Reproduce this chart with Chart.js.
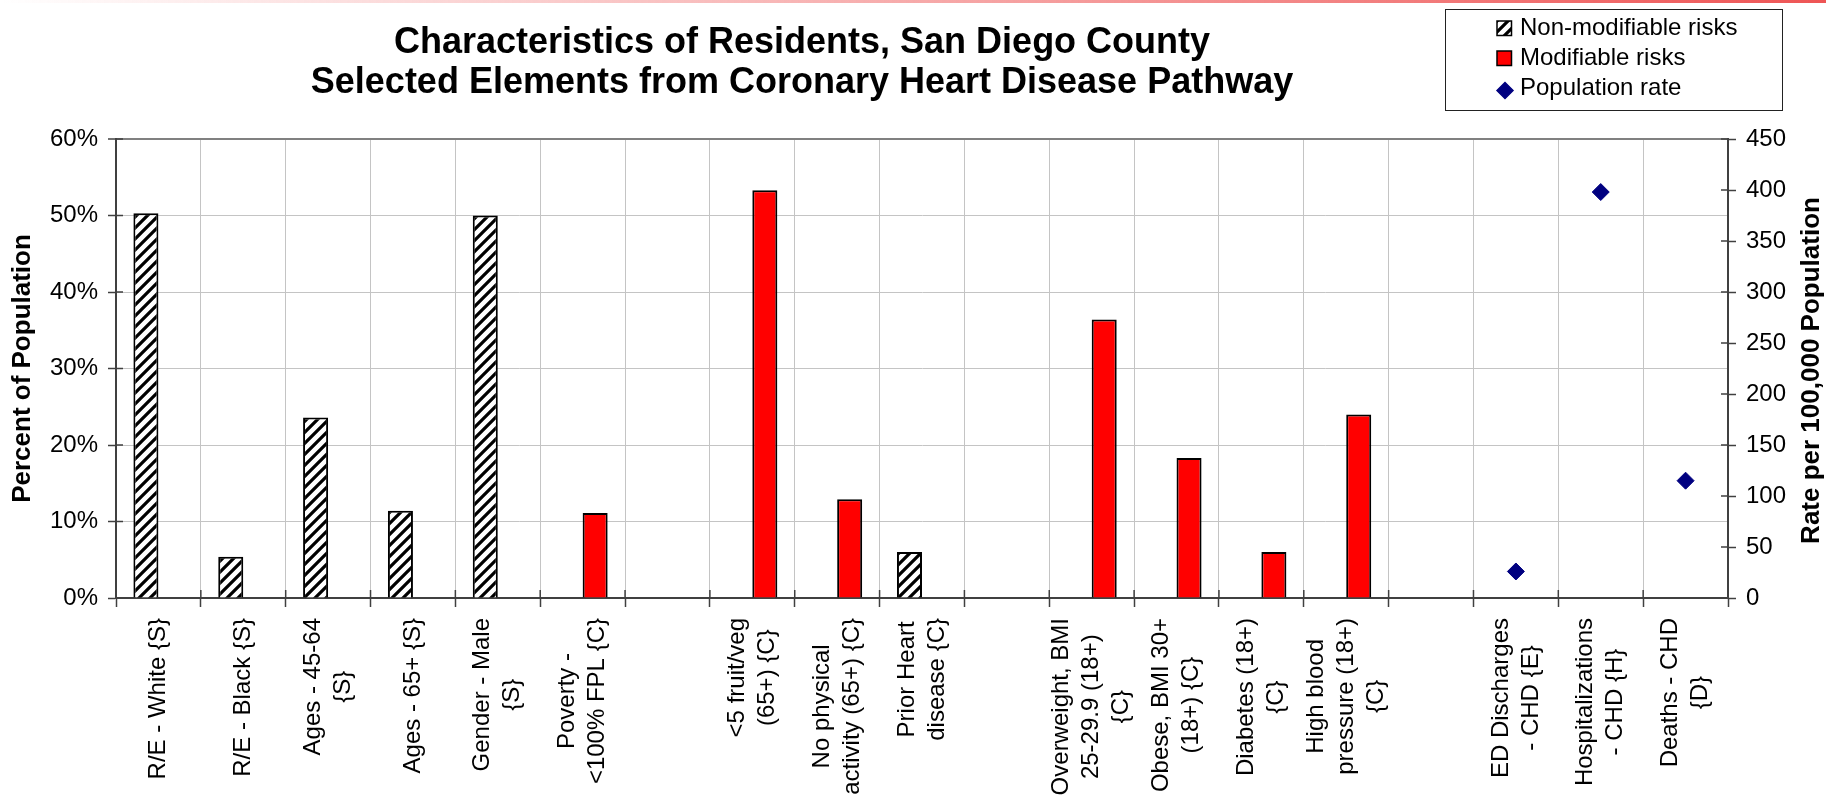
<!DOCTYPE html>
<html>
<head>
<meta charset="utf-8">
<title>Characteristics of Residents, San Diego County</title>
<script src="https://cdn.jsdelivr.net/npm/chart.js@4.4.1/dist/chart.umd.min.js"></script>
<style>
  html, body { margin: 0; padding: 0; background: #fff; }
  #wrap { width: 1826px; height: 801px; position: relative; }
</style>
</head>
<body>
<div id="wrap"><canvas id="chart"></canvas></div>
<script>
// one entry per category slot, each entry = label lines ('' = empty gap slot)
const categories = [
    ['R/E - White {S}'],
    ['R/E - Black {S}'],
    ['Ages - 45-64', '{S}'],
    ['Ages - 65+ {S}'],
    ['Gender - Male', '{S}'],
    ['Poverty -', '<100% FPL {C}'],
    [''],
    ['<5 fruit/veg', '(65+) {C}'],
    ['No physical', 'activity (65+) {C}'],
    ['Prior Heart', 'disease {C}'],
    [''],
    ['Overweight, BMI', '25-29.9 (18+)', '{C}'],
    ['Obese, BMI 30+', '(18+) {C}'],
    ['Diabetes (18+)', '{C}'],
    ['High blood', 'pressure (18+)', '{C}'],
    [''],
    ['ED Discharges', '- CHD {E}'],
    ['Hospitalizations', '- CHD {H}'],
    ['Deaths - CHD', '{D}'],
];

// percent of population
const nonModifiable = [50.3, 5.4, 23.6, 11.4, 50.0, null, null, null, null, 6.0,
                       null, null, null, null, null, null, null, null, null];
const modifiable    = [null, null, null, null, null, 11.1, null, 53.3, 12.9, null,
                       null, 36.4, 18.3, 6.0, 24.0, null, null, null, null];
// rate per 100,000
const populationRate = [null, null, null, null, null, null, null, null, null, null,
                        null, null, null, null, null, null, 26, 398, 115];

const seriesNames = ['Non-modifiable risks', 'Modifiable risks', 'Population rate'];
const titleLines = [
    'Characteristics of Residents, San Diego County',
    'Selected Elements from Coronary Heart Disease Pathway'
];
const leftTitle = 'Percent of Population';
const rightTitle = 'Rate per 100,000 Population';

const FONT = '"Liberation Sans", Arial, Helvetica, sans-serif';
Chart.defaults.font.family = FONT;
Chart.defaults.color = '#000';

function hatchPattern() {
    const p = 11;
    const c = document.createElement('canvas');
    c.width = c.height = p;
    const g = c.getContext('2d');
    g.fillStyle = '#fff';
    g.fillRect(0, 0, p, p);
    g.strokeStyle = '#000';
    g.lineWidth = 3.2;
    g.beginPath();
    g.moveTo(-2, p + 2); g.lineTo(p + 2, -2);
    g.moveTo(-2, 2); g.lineTo(2, -2);
    g.moveTo(p - 2, p + 2); g.lineTo(p + 2, p - 2);
    g.stroke();
    return g.createPattern(c, 'repeat');
}
const hatch = hatchPattern();

const AXIS = '#404040';
const GRID = '#c4c4c4';

// title, legend box, rotated category labels, right title, inner tick halves
const decor = {
    id: 'decor',
    afterDraw(chart) {
        const { ctx, chartArea, scales } = chart;
        ctx.save();

        const grad = ctx.createLinearGradient(0, 0, chart.width, 0);
        grad.addColorStop(0, 'rgba(238,85,85,0)');
        grad.addColorStop(1, 'rgba(238,85,85,1)');
        ctx.fillStyle = grad;
        ctx.fillRect(0, 0, chart.width, 3);

        ctx.fillStyle = '#000';
        ctx.font = 'bold 36px ' + FONT;
        ctx.textAlign = 'center';
        ctx.textBaseline = 'alphabetic';
        titleLines.forEach((t, i) => ctx.fillText(t, 802, 53 + i * 40));

        // category labels, lines centred on each other, block top under the axis
        const xs = scales.x;
        ctx.font = '24px ' + FONT;
        ctx.textBaseline = 'middle';
        categories.forEach((lines, i) => {
            const px = xs.getPixelForValue(i);
            const w = Math.max(...lines.map(l => ctx.measureText(l).width));
            ctx.save();
            ctx.translate(px, chartArea.bottom + 20);
            ctx.rotate(-Math.PI / 2);
            lines.forEach((l, j) => ctx.fillText(l, -w / 2, (j - (lines.length - 1) / 2) * 30));
            ctx.restore();
        });

        ctx.save();
        ctx.font = 'bold 26px ' + FONT;
        ctx.translate(chart.width - 14, (chartArea.top + chartArea.bottom) / 2 + 2);
        ctx.rotate(-Math.PI / 2);
        ctx.fillText(rightTitle, 0, 0);
        ctx.restore();

        // excel style "cross" ticks: inner halves
        ctx.strokeStyle = AXIS;
        ctx.lineWidth = 1.5;
        ctx.beginPath();
        for (let i = 0; i <= categories.length; i++) {
            const x = xs.getPixelForValue(i - 0.5);
            ctx.moveTo(x, chartArea.bottom);
            ctx.lineTo(x, chartArea.bottom - 8);
        }
        scales.y.ticks.forEach(t => {
            const y = scales.y.getPixelForValue(t.value);
            ctx.moveTo(chartArea.left, y);
            ctx.lineTo(chartArea.left + 7, y);
        });
        scales.y2.ticks.forEach(t => {
            const y = scales.y2.getPixelForValue(t.value);
            ctx.moveTo(chartArea.right, y);
            ctx.lineTo(chartArea.right - 7, y);
        });
        ctx.stroke();

        // legend
        const ds = chart.data.datasets;
        ctx.strokeStyle = '#222';
        ctx.lineWidth = 1;
        ctx.strokeRect(1445.5, 9.5, 337, 101);
        const rowBase = [35, 65, 94.5];
        ctx.font = '24px ' + FONT;
        ctx.textAlign = 'left';
        ctx.textBaseline = 'alphabetic';
        ds.forEach((d, i) => {
            const base = rowBase[i];
            if (d.type === 'line') {
                ctx.fillStyle = d.pointBackgroundColor;
                ctx.strokeStyle = d.pointBorderColor;
                Chart.helpers.drawPoint(ctx, { pointStyle: d.pointStyle, radius: 8, borderWidth: 1 }, 1505, base - 4);
            } else {
                ctx.fillStyle = d.backgroundColor;
                ctx.fillRect(1497, base - 14, 14.5, 14.5);
                ctx.strokeStyle = d.borderColor;
                ctx.lineWidth = 1.5;
                ctx.strokeRect(1497, base - 14, 14.5, 14.5);
            }
            ctx.fillStyle = '#000';
            ctx.fillText(d.label, 1520, base);
        });

        ctx.restore();
    }
};

new Chart(document.getElementById('chart'), {
    type: 'bar',
    plugins: [decor],
    data: {
        labels: categories,
        datasets: [
            { label: seriesNames[0], data: nonModifiable, backgroundColor: hatch,
              borderColor: '#000', borderWidth: 2, yAxisID: 'y', order: 2 },
            { label: seriesNames[1], data: modifiable, backgroundColor: '#ff0000',
              borderColor: '#000', borderWidth: 2, yAxisID: 'y', order: 2 },
            { type: 'line', label: seriesNames[2], data: populationRate, yAxisID: 'y2',
              showLine: false, pointStyle: 'rectRot', pointRadius: 8.5, pointHoverRadius: 8.5,
              pointBackgroundColor: '#000080', pointBorderColor: '#000080', pointBorderWidth: 1, order: 1 }
        ]
    },
    options: {
        responsive: true,
        maintainAspectRatio: false,
        animation: false,
        devicePixelRatio: 1,
        layout: { padding: { top: 139, left: 0, right: 0, bottom: 0 } },
        datasets: { bar: { categoryPercentage: 0.59, barPercentage: 1.0 } },
        plugins: {
            legend: { display: false },
            title: { display: false },
            tooltip: { enabled: false }
        },
        scales: {
            x: {
                offset: true,
                grid: { offset: true, color: GRID, lineWidth: 1, tickLength: 9, tickColor: AXIS, tickWidth: 1.5 },
                border: { color: AXIS, width: 2 },
                ticks: { display: false },
                afterFit(s) { s.height = 203; }
            },
            y: {
                position: 'left',
                min: 0, max: 60,
                ticks: { stepSize: 10, callback: v => v + '%', font: { size: 24 }, color: '#000', padding: 10 },
                grid: {
                    color: c => (c.tick && c.tick.value === 60 ? '#808080' : GRID),
                    lineWidth: c => (c.tick && c.tick.value === 60 ? 2 : 1),
                    tickLength: 8, tickColor: AXIS, tickWidth: 1.5
                },
                border: { color: AXIS, width: 2 },
                title: { display: true, text: leftTitle, color: '#000',
                         font: { size: 26, weight: 'bold' }, padding: { top: 7, bottom: 0 } },
                afterFit(s) { s.width = 116; }
            },
            y2: {
                position: 'right',
                min: 0, max: 450,
                ticks: { stepSize: 50, font: { size: 24 }, color: '#000', padding: 10 },
                grid: { drawOnChartArea: false, tickLength: 8, tickColor: AXIS, tickWidth: 1.5 },
                border: { color: AXIS, width: 2 },
                afterFit(s) { s.width = 98; }
            }
        }
    }
});
</script>
</body>
</html>
